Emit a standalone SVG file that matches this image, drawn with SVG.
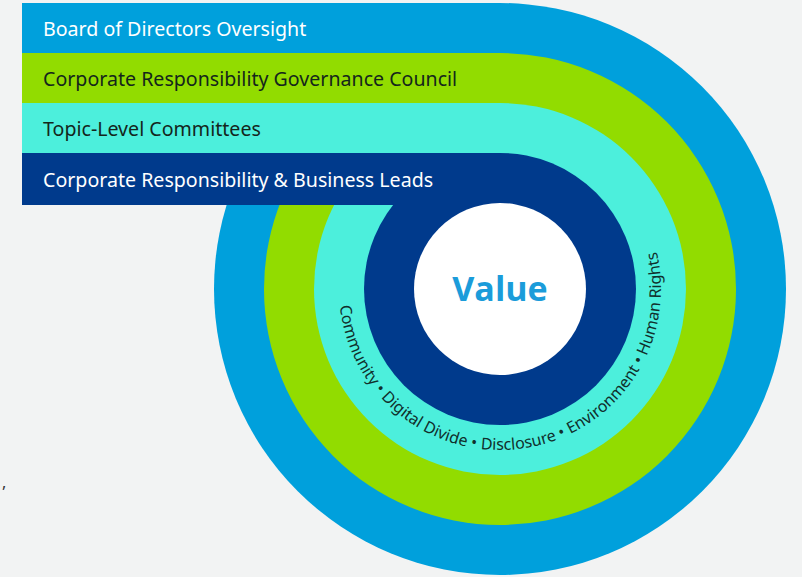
<svg xmlns="http://www.w3.org/2000/svg" width="802" height="577" viewBox="0 0 802 577">
<style>
.lbl{font-family:"Noto Sans","Open Sans","Liberation Sans",sans-serif;font-size:19.6px}
.w{fill:#ffffff}
.d{fill:#14261c}
.blue{fill:#00a0dc}
.green{fill:#92dc00}
.cyan{fill:#4cefdc}
.navy{fill:#003a8c}
.ring{font-family:"Noto Sans","Open Sans","Liberation Sans",sans-serif;font-size:16px;fill:#10302c}
</style>
<defs>
<path id="arc" d="M 339.9 305.8 A 161 161 0 1 0 623.3 185.5"/>
</defs>
<rect x="0" y="0" width="802" height="577" fill="#f2f3f3"/>
<g id="board">
<circle class="blue" cx="500" cy="289" r="286"/>
<rect class="blue" x="22" y="3" width="478" height="202"/>
<text class="lbl w" x="43" y="36">Board of Directors Oversight</text>
</g>
<g id="council">
<circle class="green" cx="500" cy="289" r="236"/>
<rect class="green" x="22" y="53" width="478" height="152"/>
<text class="lbl d" x="43" y="86">Corporate Responsibility Governance Council</text>
</g>
<g id="committees">
<circle class="cyan" cx="500" cy="289" r="186"/>
<rect class="cyan" x="22" y="103" width="478" height="102"/>
<text class="lbl d" x="43" y="136">Topic-Level Committees</text>
</g>
<g id="leads">
<circle class="navy" cx="500" cy="289" r="136"/>
<rect class="navy" x="22" y="153" width="478" height="52"/>
<text class="lbl w" x="43" y="187">Corporate Responsibility &amp; Business Leads</text>
</g>
<g id="value">
<circle cx="500" cy="289" r="86" fill="#ffffff"/>
<text x="500" y="301" text-anchor="middle" font-family="'Open Sans','Noto Sans','Liberation Sans',sans-serif" font-weight="bold" font-size="34" fill="#1b9cda">Value</text>
</g>
<g id="topics">
<text class="ring"><textPath href="#arc">Community • Digital Divide • Disclosure • Environment • Human Rights</textPath></text>
</g>
<text x="2" y="488" font-family="'Noto Sans',sans-serif" font-size="16" fill="#333333">,</text>
</svg>
